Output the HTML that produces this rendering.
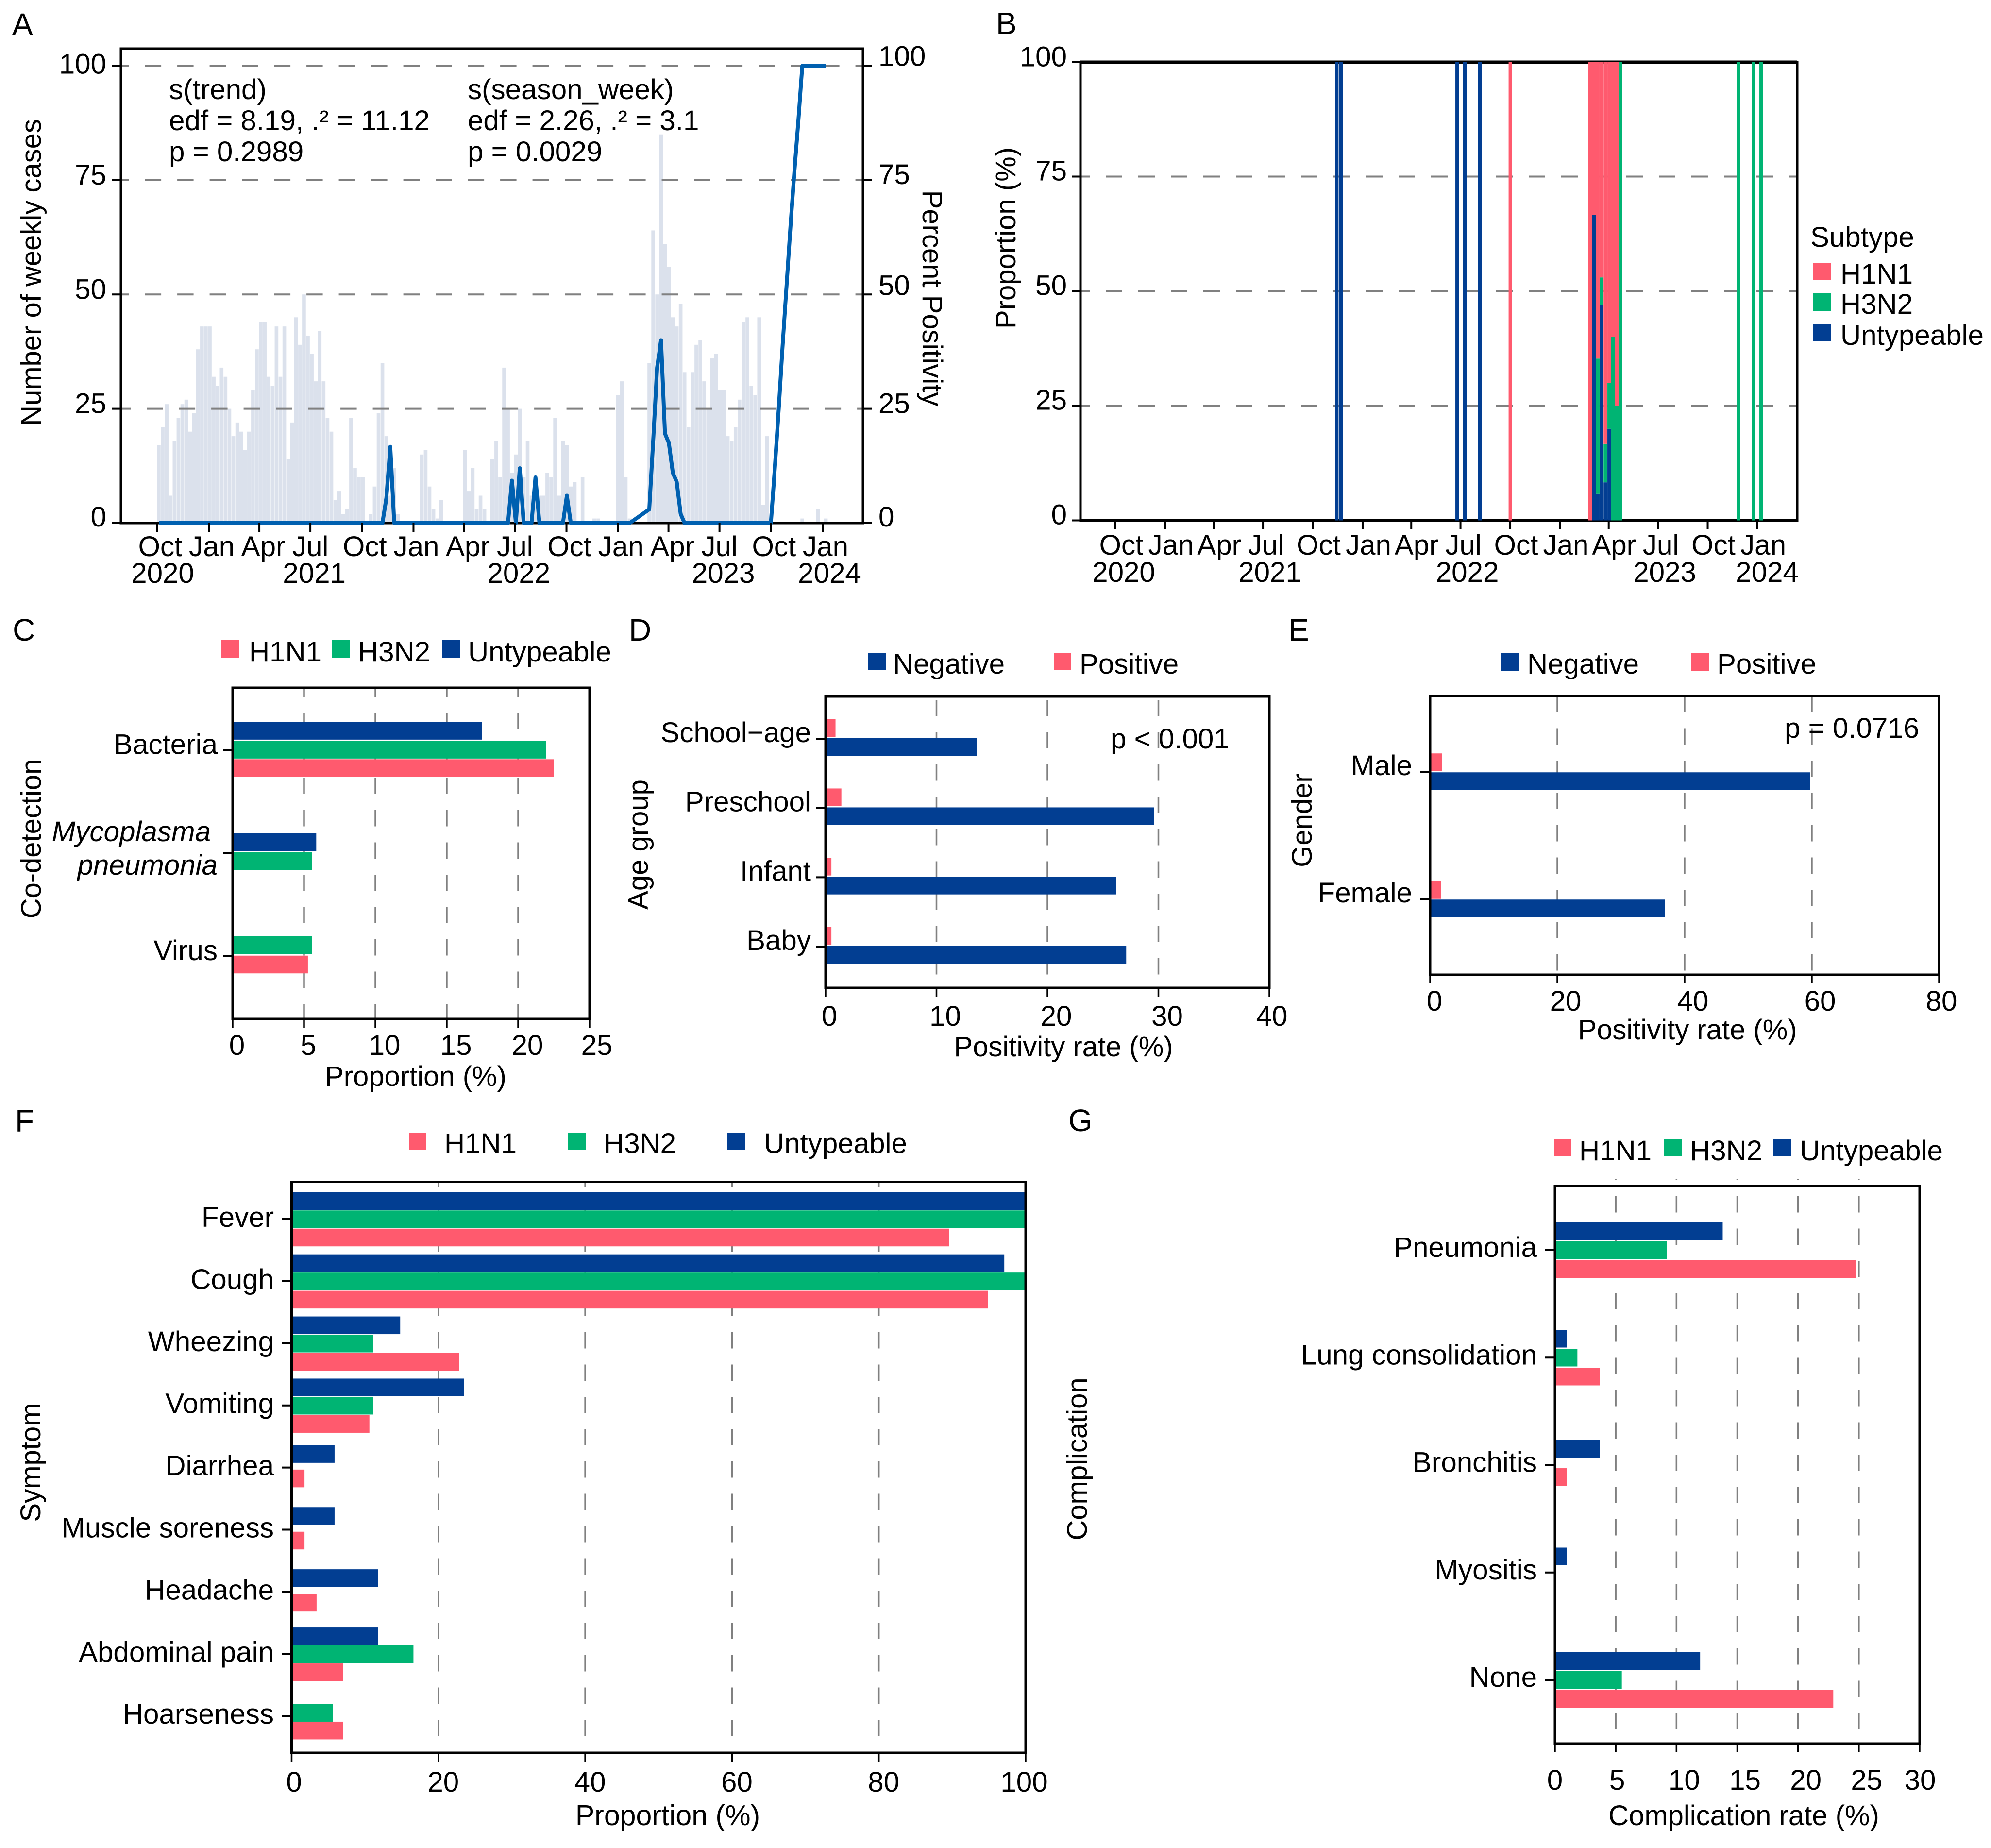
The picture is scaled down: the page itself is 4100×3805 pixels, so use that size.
<!DOCTYPE html>
<html lang="en">
<head>
<meta charset="utf-8">
<title>Influenza surveillance multi-panel chart</title>
<style>
html,body{margin:0;padding:0;background:#fff;}
svg{display:block;}
text{font-family:"Liberation Sans",Arial,sans-serif;fill:#000;font-size:58.3px;}
.panel{font-size:64px;}
.ttl{font-size:58px;}
.box{fill:none;stroke:#000;stroke-width:5;}
</style>
</head>
<body>
<svg id="figure" xmlns="http://www.w3.org/2000/svg" width="4100" height="3805" viewBox="0 0 4100 3805">
  <rect x="0" y="0" width="4100" height="3805" fill="#fff"/>

  <g id="panel-a">
    <text class="panel" x="25" y="72">A</text>
    <g id="a-marks"></g>
    <text class="ttl" transform="translate(84,561) rotate(-90)" text-anchor="middle">Number of weekly cases</text>
    <text class="ttl" transform="translate(1900,614) rotate(90)" text-anchor="middle">Percent Positivity</text>
    <text x="348" y="204">s(trend)</text>
    <text x="348" y="268">edf = 8.19, .² = 11.12</text>
    <text x="348" y="332">p = 0.2989</text>
    <text x="963" y="204">s(season_week)</text>
    <text x="963" y="268">edf = 2.26, .² = 3.1</text>
    <text x="963" y="332">p = 0.0029</text>
  </g>

  <g id="panel-b">
    <text class="panel" x="2051" y="70">B</text>
    <g id="b-marks"></g>
    <text class="ttl" transform="translate(2091,490) rotate(-90)" text-anchor="middle">Proportion (%)</text>
    <g>
      <text x="3728" y="508">Subtype</text>
      <rect x="3734" y="542" width="36" height="35" fill="#ff5a6e"/>
      <text x="3790" y="584">H1N1</text>
      <rect x="3734" y="604" width="36" height="36" fill="#00b473"/>
      <text x="3790" y="646">H3N2</text>
      <rect x="3734" y="667" width="36" height="36" fill="#023e92"/>
      <text x="3790" y="710">Untypeable</text>
    </g>
  </g>

  <g id="panel-c">
    <text class="panel" x="26" y="1319">C</text>
    <g id="c-marks"></g>
    <text class="ttl" transform="translate(84,1727) rotate(-90)" text-anchor="middle">Co-detection</text>
    <text class="ttl" x="856" y="2236" text-anchor="middle">Proportion (%)</text>
    <g>
      <rect x="456" y="1318" width="36" height="36" fill="#ff5a6e"/>
      <text x="513" y="1362">H1N1</text>
      <rect x="684" y="1318" width="36" height="36" fill="#00b473"/>
      <text x="737" y="1362">H3N2</text>
      <rect x="911" y="1318" width="36" height="36" fill="#023e92"/>
      <text x="964" y="1362">Untypeable</text>
    </g>
  </g>

  <g id="panel-d">
    <text class="panel" x="1295" y="1319">D</text>
    <g id="d-marks"></g>
    <text class="ttl" transform="translate(1334,1739) rotate(-90)" text-anchor="middle">Age group</text>
    <text class="ttl" x="2190" y="2175" text-anchor="middle">Positivity rate (%)</text>
    <text x="2287" y="1541">p &lt; 0.001</text>
    <g>
      <rect x="1787" y="1344" width="37" height="36" fill="#023e92"/>
      <text x="1839" y="1387">Negative</text>
      <rect x="2170" y="1344" width="36" height="36" fill="#ff5a6e"/>
      <text x="2223" y="1387">Positive</text>
    </g>
  </g>

  <g id="panel-e">
    <text class="panel" x="2653" y="1319">E</text>
    <g id="e-marks"></g>
    <text class="ttl" transform="translate(2701,1689) rotate(-90)" text-anchor="middle">Gender</text>
    <text class="ttl" x="3475" y="2140" text-anchor="middle">Positivity rate (%)</text>
    <text x="3675" y="1519">p = 0.0716</text>
    <g>
      <rect x="3091" y="1344" width="37" height="37" fill="#023e92"/>
      <text x="3145" y="1387">Negative</text>
      <rect x="3482" y="1344" width="38" height="37" fill="#ff5a6e"/>
      <text x="3536" y="1387">Positive</text>
    </g>
  </g>

  <g id="panel-f">
    <text class="panel" x="31" y="2330">F</text>
    <g id="f-marks"></g>
    <text class="ttl" transform="translate(83,3011) rotate(-90)" text-anchor="middle">Symptom</text>
    <text class="ttl" x="1375" y="3758" text-anchor="middle" style="font-size:59px">Proportion (%)</text>
    <g>
      <rect x="842" y="2332" width="36" height="35" fill="#ff5a6e"/>
      <text x="915" y="2374">H1N1</text>
      <rect x="1170" y="2332" width="37" height="35" fill="#00b473"/>
      <text x="1243" y="2374">H3N2</text>
      <rect x="1498" y="2332" width="37" height="35" fill="#023e92"/>
      <text x="1573" y="2374">Untypeable</text>
    </g>
  </g>

  <g id="panel-g">
    <text class="panel" x="2200" y="2329">G</text>
    <g id="g-marks"></g>
    <text class="ttl" transform="translate(2238,3004) rotate(-90)" text-anchor="middle">Complication</text>
    <text class="ttl" x="3591" y="3758" text-anchor="middle">Complication rate (%)</text>
    <g>
      <rect x="3200" y="2345" width="36" height="35" fill="#ff5a6e"/>
      <text x="3252" y="2389">H1N1</text>
      <rect x="3426" y="2345" width="37" height="35" fill="#00b473"/>
      <text x="3480" y="2389">H3N2</text>
      <rect x="3652" y="2345" width="36" height="35" fill="#023e92"/>
      <text x="3706" y="2389">Untypeable</text>
    </g>
  </g>
</svg>

<script>
/* ---------- Panel A data ---------- */
const weeklyCases = [17,21,26,6,18,23,26,27,20,24,38,43,43,43,32,30,34,32,25,19,22,20,16,20,29,38,44,44,32,30,43,32,43,14,22,45,39,50,41,37,31,42,31,23,20,5,7,2,3,23,12,10,10,0,2,8,24,35,19,6,12,2,0,0,0,0,0,15,16,8,3,1,5,0,0,0,0,0,16,7,12,3,6,3,0,14,18,10,34,25,11,15,25,10,18,6,7,6,6,11,10,23,6,18,17,8,9,0,10,0,0,1,1,0,0,0,0,28,31,10,1,0,0,0,0,35,64,50,85,61,56,45,43,48,33,21,33,39,40,31,25,36,37,29,29,19,18,21,27,44,45,30,28,45,4,19,0,0,0,0,0,0,0,0,1,0,0,0,3,0,1];
const positivityWeeks = [0,57,58,59,60,89,90,91,92,93,95,96,97,103,104,105,120,125,126,127,128,129,130,131,132,133,134,156,157,158,159,160,161,162,163,164,170];
const positivityValues = [0,0,5.5,16.7,0,0,9.3,0,12,0,0,10,0,0,6,0,0,3,18,34,40,19.6,17.5,11,9,2,0,0,12,25,39,52,65,77,88,100,100];
const timeTickDays = [0,92,182,273,365,457,547,638,730,822,912,1003,1095,1187];
const timeTickMonths = ['Oct','Jan','Apr','Jul','Oct','Jan','Apr','Jul','Oct','Jan','Apr','Jul','Oct','Jan'];
const timeTickYears = ['2020','','','2021','','','','2022','','','','2023','','2024'];
const yTicks100 = [0,25,50,75,100];

/* ---------- Panel B data ---------- */
const subtypeWeeks = [58.3,59.4,90,92,96,104,125,126,127,128,129,130,131,132,133,164,168,170];
const subtypeUntypeable = [100,100,100,100,100,0,0,66.6,5.8,47,8.3,20,0,0,0,0,0,0];
const subtypeH3N2 = [0,0,0,0,0,0,0,0,29.5,6,8.4,10,40,25,100,100,100,100];
const subtypeH1N1 = [0,0,0,0,0,100,100,33.4,64.7,47,83.3,70,60,75,0,0,0,0];

/* ---------- Panel C data ---------- */
const cCategories = ['Bacteria','Mycoplasma\npneumonia','Virus'];
const cUntypeable = [17.45,5.86,0];
const cH3N2 = [21.96,5.56,5.56];
const cH1N1 = [22.5,0,5.27];
const cTicks = [0,5,10,15,20,25];

/* ---------- Panel D data ---------- */
const dCategories = ['School\u2212age','Preschool','Infant','Baby'];
const dPositive = [0.9,1.43,0.53,0.53];
const dNegative = [13.64,29.6,26.2,27.1];
const dTicks = [0,10,20,30,40];

/* ---------- Panel E data ---------- */
const eCategories = ['Male','Female'];
const ePositive = [1.9,1.68];
const eNegative = [59.75,36.9];
const eTicks = [0,20,40,60,80];

/* ---------- Panel F data ---------- */
const fCategories = ['Fever','Cough','Wheezing','Vomiting','Diarrhea','Muscle soreness','Headache','Abdominal pain','Hoarseness'];
const fUntypeable = [100,97.1,14.8,23.5,5.85,5.85,11.8,11.8,0];
const fH3N2 = [100,100,11.1,11.1,0,0,0,16.6,5.6];
const fH1N1 = [89.6,94.9,22.8,10.6,1.76,1.76,3.4,7,7];
const fTicks = [0,20,40,60,80,100];

/* ---------- Panel G data ---------- */
const gCategories = ['Pneumonia','Lung consolidation','Bronchitis','Myositis','None'];
const gUntypeable = [13.8,0.97,3.7,0.97,11.95];
const gH3N2 = [9.2,1.85,0,0,5.5];
const gH1N1 = [24.8,3.7,0.97,0,22.9];
const gTicks = [0,5,10,15,20,25,30];

/* ---------- Helpers ---------- */
const NS = 'http://www.w3.org/2000/svg';
const RED = '#ff5a6e', GREEN = '#00b473', BLUE = '#023e92';
const GRID = '#808080', BARBG = '#dbe1ec', LINE = '#0060b0';

function svgEl(parent, tag, attrs, text) {
  const e = document.createElementNS(NS, tag);
  for (const k in attrs) e.setAttribute(k, attrs[k]);
  if (text !== undefined) e.textContent = text;
  parent.appendChild(e);
  return e;
}
function linear(d0, d1, r0, r1) {
  return v => r0 + (v - d0) * (r1 - r0) / (d1 - d0);
}

/* ---------- Time-series panel scaffolding ---------- */
function timeAxis(g, x, yBase, tickLen, labelBase, yearBase, shift) {
  timeTickDays.forEach((d, i) => {
    const t = svgEl(g, 'line', {x1: x(d), x2: x(d), y1: yBase, y2: yBase + tickLen, stroke: '#000', 'stroke-width': 4});
    
    
    const m = timeTickMonths[i];
    const l = svgEl(g, 'text', {x: x(d) + shift[m], y: labelBase, 'text-anchor': 'middle'}, m);
    
    
    if (timeTickYears[i]) {
      const yl = svgEl(g, 'text', {x: x(d) + shift[m] + (i === 0 ? 5 : 8), y: yearBase, 'text-anchor': 'middle'}, timeTickYears[i]);
      
      
    }
  });
}

/* ---------- Panel A ---------- */
(function () {
  const g = document.getElementById('a-marks');
  const L = 249, R = 1777, T = 100, B = 1077;
  const y = linear(0, 100, 1077, 135.5);
  const xDay = linear(0, 1187, 324, 1694);
  const xWeek = w => 327 + 8.08 * w;

  weeklyCases.forEach((v, i) => {
    if (!v) return;
    const b = svgEl(g, 'rect', {x: xWeek(i) - 3.8, y: y(v), width: 7.6, height: y(0) - y(v), fill: BARBG});
    
    
  });
  yTicks100.forEach(v => {
    if (v > 0) {
      const gl = svgEl(g, 'line', {x1: L, x2: R, y1: y(v), y2: y(v), stroke: GRID, 'stroke-width': 4, 'stroke-dasharray': '33.5 33', 'stroke-dashoffset': v === 25 ? 13.4 : 16.9});
      
      
    }
    const t1 = svgEl(g, 'line', {x1: L - 18, x2: L, y1: y(v), y2: y(v), stroke: '#000', 'stroke-width': 4});
    
    
    const t2 = svgEl(g, 'line', {x1: R, x2: R + 18, y1: y(v), y2: y(v), stroke: '#000', 'stroke-width': 4});
    
    
    const offLeft = {0: 7, 25: 9, 50: 9, 75: 9, 100: 16};
    const offRight = {0: 7, 25: 9, 50: 1, 75: 8, 100: 0};
    const l1 = svgEl(g, 'text', {x: 219, y: y(v) + offLeft[v], 'text-anchor': 'end'}, String(v));
    
    
    const l2 = svgEl(g, 'text', {x: 1809, y: y(v) + offRight[v]}, String(v));
    
    
  });
  const box = svgEl(g, 'rect', {x: L, y: T, width: R - L, height: B - T, class: 'box'});
  
  
  const pts = positivityWeeks.map((w, i) => xWeek(w) + ',' + y(positivityValues[i])).join(' ');
  const pl = svgEl(g, 'polyline', {points: pts, fill: 'none', stroke: LINE, 'stroke-width': 8, 'stroke-linejoin': 'round', 'stroke-linecap': 'butt'});
  
  
  timeAxis(g, xDay, B, 18, 1145, 1200, {Oct: 6, Jan: 6, Apr: 8, Jul: 0});
})();

/* ---------- Panel B ---------- */
(function () {
  const g = document.getElementById('b-marks');
  const L = 2225, R = 3701, T = 128, B = 1071.5;
  const y = linear(0, 100, 1071.5, 127.5);
  const xDay = linear(0, 1187, 2297, 3619);
  const xWeek = w => 2296.5 + 7.825 * w;

  [25, 50, 75].forEach(v => {
    const gl = svgEl(g, 'line', {x1: L, x2: R, y1: y(v), y2: y(v), stroke: GRID, 'stroke-width': 4, 'stroke-dasharray': '34 33', 'stroke-dashoffset': 15});
    
    
  });
  yTicks100.forEach(v => {
    const t = svgEl(g, 'line', {x1: L - 18, x2: L, y1: y(v), y2: y(v), stroke: '#000', 'stroke-width': 4});
    
    
    const l = svgEl(g, 'text', {x: 2197, y: y(v) + (v === 100 ? 9 : v === 0 ? 8 : 8), 'text-anchor': 'end'}, String(v));
    
    
  });
  const fr = svgEl(g, 'rect', {x: L, y: T, width: R - L, height: B - T, class: 'box'});
  
  
  const top = svgEl(g, 'line', {x1: L, x2: R, y1: T, y2: T, stroke: '#000', 'stroke-width': 7});
  
  

  subtypeWeeks.forEach((w, i) => {
    const cx = xWeek(w);
    let acc = 0;
    const blueH = subtypeUntypeable[i], greenH = subtypeH3N2[i], redH = subtypeH1N1[i];
    if (blueH > 0) {
      const s1 = svgEl(g, 'rect', {x: cx - 3.7, y: y(acc + blueH), width: 7.4, height: y(acc) - y(acc + blueH), fill: BLUE});
      
      
      acc += blueH;
    }
    if (greenH > 0) {
      const s2 = svgEl(g, 'rect', {x: cx - 3.7, y: y(acc + greenH), width: 7.4, height: y(acc) - y(acc + greenH), fill: GREEN});
      
      
      acc += greenH;
    }
    if (redH > 0) {
      const s3 = svgEl(g, 'rect', {x: cx - 3.7, y: y(acc + redH), width: 7.4, height: y(acc) - y(acc + redH), fill: RED});
      
      
    }
  });
  timeAxis(g, xDay, B, 18, 1142, 1198, {Oct: 12, Jan: 12, Apr: 11, Jul: 6});
})();

/* ---------- Horizontal bar panels ---------- */
function hBarPanel(c) {
  const g = document.getElementById(c.id);
  const x = linear(0, c.max, c.L, c.R);
  const catY = i => c.firstY + i * c.stepY;

  c.ticks.forEach(v => {
    if (v > 0 && v < c.max) {
      const gl = svgEl(g, 'line', {x1: x(v), x2: x(v), y1: c.gridTop || c.T, y2: c.B, stroke: GRID, 'stroke-width': 3.5, 'stroke-dasharray': '33.5 33', 'stroke-dashoffset': c.dashOffset});
      
      
    }
    const t = svgEl(g, 'line', {x1: x(v), x2: x(v), y1: c.B, y2: c.B + 18, stroke: '#000', 'stroke-width': 3.5});
    
    
    const l = svgEl(g, 'text', {x: x(v) + c.tickShift(v), y: c.tickBase, 'text-anchor': 'middle'}, String(v));
    
    
  });

  c.categories.forEach((cat, i) => {
    const cy = catY(i);
    const present = c.series.filter(s => s.values[i] > 0);
    const key = present.map(s => s.key).join('');
    const offs = c.offsets[key];
    present.forEach((s, j) => {
      const bar = svgEl(g, 'rect', {x: c.L, y: cy + offs[j] - 18.25, width: x(s.values[i]) - c.L, height: 36.5, fill: s.color});
      
      
    });
    const t = svgEl(g, 'line', {x1: c.L - 20, x2: c.L, y1: cy, y2: cy, stroke: '#000', 'stroke-width': 4});
    
    
    if (cat.indexOf('\n') >= 0) {
      const parts = cat.split('\n');
      const l1 = svgEl(g, 'text', {x: c.labelX - 14, y: cy - 25, 'text-anchor': 'end', 'font-style': 'italic'}, parts[0]);
      
      
      const l2 = svgEl(g, 'text', {x: c.labelX, y: cy + 44, 'text-anchor': 'end', 'font-style': 'italic'}, parts[1]);
      
      
    } else {
      const l = svgEl(g, 'text', {x: c.labelX, y: cy + c.labelDy, 'text-anchor': 'end'}, cat);
      
      
    }
  });

  const box = svgEl(g, 'rect', {x: c.L, y: c.T, width: c.R - c.L, height: c.B - c.T, class: 'box'});
  
  
}

hBarPanel({
  id: 'c-marks', L: 479, R: 1214, T: 1416, B: 2098, max: 25, ticks: cTicks,
  firstY: 1544.6, stepY: 212.2, categories: cCategories, labelX: 448, labelDy: 8,
  tickBase: 2172, dashOffset: 14, tickShift: v => v < 10 ? 9 : (v === 25 ? 15 : 19),
  series: [
    {key: 'b', name: 'untypeable', values: cUntypeable, color: BLUE},
    {key: 'g', name: 'h3n2', values: cH3N2, color: GREEN},
    {key: 'r', name: 'h1n1', values: cH1N1, color: RED}
  ],
  offsets: {bgr: [-40, -1, 37], bg: [-22.7, 16], gr: [-23, 17]}
});

hBarPanel({
  id: 'd-marks', L: 1700, R: 2614, T: 1434, B: 2034, max: 40, ticks: dTicks,
  firstY: 1521, stepY: 142.7, categories: dCategories, labelX: 1670, labelDy: 7,
  tickBase: 2112, dashOffset: 59.5, tickShift: v => v === 0 ? 8 : (v === 40 ? 5 : 18),
  series: [
    {key: 'r', name: 'positive', values: dPositive, color: RED},
    {key: 'b', name: 'negative', values: dNegative, color: BLUE}
  ],
  offsets: {rb: [-22, 17]}
});

hBarPanel({
  id: 'e-marks', L: 2945, R: 3993, T: 1433, B: 2007, max: 80, ticks: eTicks,
  firstY: 1589, stepY: 262, categories: eCategories, labelX: 2908, labelDy: 7,
  tickBase: 2081, dashOffset: 0, tickShift: v => v === 0 ? 9 : (v === 80 ? 5 : 17),
  series: [
    {key: 'r', name: 'positive', values: ePositive, color: RED},
    {key: 'b', name: 'negative', values: eNegative, color: BLUE}
  ],
  offsets: {rb: [-19.5, 19.5]}
});

hBarPanel({
  id: 'f-marks', L: 600.5, R: 2112, T: 2433.5, B: 3609, max: 100, ticks: fTicks,
  firstY: 2510, stepY: 127.9, categories: fCategories, labelX: 564, labelDy: 16,
  tickBase: 3689, dashOffset: 23, tickShift: v => v === 0 ? 5 : (v === 100 ? -3 : 10),
  series: [
    {key: 'b', name: 'untypeable', values: fUntypeable, color: BLUE},
    {key: 'g', name: 'h3n2', values: fH3N2, color: GREEN},
    {key: 'r', name: 'h1n1', values: fH1N1, color: RED}
  ],
  offsets: {bgr: [-37, 0.5, 38], br: [-28, 22.5], gr: [-6, 30]}
});

hBarPanel({
  id: 'g-marks', L: 3202, R: 3953, T: 2441.5, B: 3590, gridTop: 2427, max: 30, ticks: gTicks,
  firstY: 2574, stepY: 221.25, categories: gCategories, labelX: 3165, labelDy: 14,
  tickBase: 3685, dashOffset: 30.5, tickShift: v => v === 30 ? 1 : (v >= 10 ? 16 : (v === 5 ? 3 : 0)),
  series: [
    {key: 'b', name: 'untypeable', values: gUntypeable, color: BLUE},
    {key: 'g', name: 'h3n2', values: gH3N2, color: GREEN},
    {key: 'r', name: 'h1n1', values: gH1N1, color: RED}
  ],
  offsets: {bgr: [-39, 0, 39], br: [-33.7, 24.8], b: [-33]}
});
</script>
</body>
</html>
